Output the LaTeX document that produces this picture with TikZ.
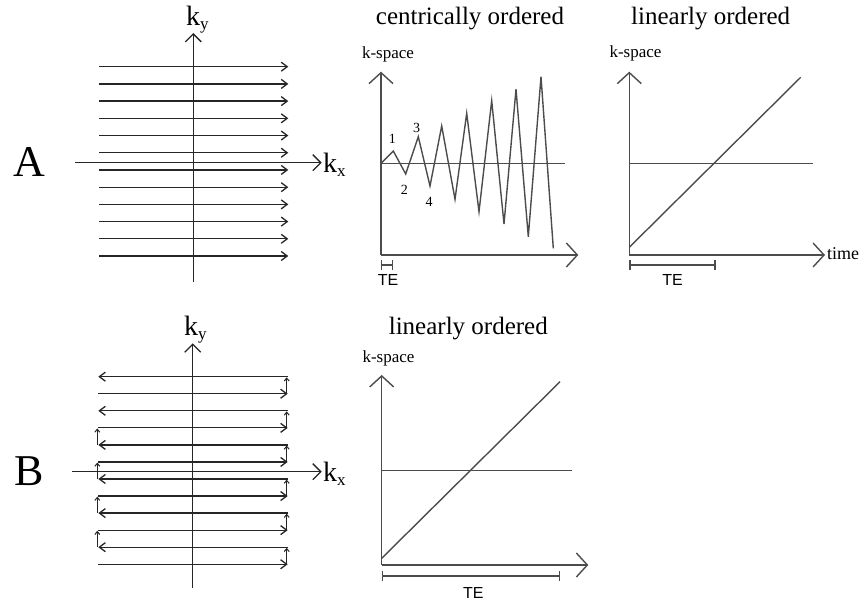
\documentclass[tikz,border=0pt]{standalone}
\usepackage{fontspec}
\setmainfont{Liberation Serif}
\newfontfamily\tesans{Liberation Sans}
\usetikzlibrary{arrows.meta}
\begin{document}
\begin{tikzpicture}[x=1pt,y=-1pt,
  kln/.style={line width=1.3pt,draw=black!85},
  pln/.style={line width=1.4pt,draw=black!70},
  kaxis/.style={kln,-{Straight Barb[length=8pt,width=16pt]}},
  rowr/.style={kln,-{Straight Barb[length=6pt,width=9pt]}},
  upar/.style={kln,line width=1pt,-{Straight Barb[length=3pt,width=5pt]}},
  paxis/.style={pln,-{Straight Barb[length=11pt,width=24pt]}},
  title/.style={font=\fontsize{25}{30}\selectfont,anchor=base,inner sep=0pt},
  kslabel/.style={font=\fontsize{17}{20}\selectfont,anchor=base,inner sep=0pt},
  telabel/.style={font=\tesans\fontsize{16}{19}\selectfont,anchor=base,inner sep=0pt},
  numlabel/.style={font=\fontsize{14}{16}\selectfont,inner sep=0pt},
  big/.style={font=\fontsize{44}{50}\selectfont,inner sep=0pt},
  klab/.style={font=\fontsize{28}{32}\selectfont,anchor=base west,inner sep=0pt},
  tebar/.style={pln,{Bar[width=10pt]}-{Bar[width=10pt]}}
]
\useasboundingbox (0,0) rectangle (865,601);
\newcommand{\ksub}[1]{k\raisebox{-4pt}{\fontsize{17}{17}\selectfont #1}}

% ---------- A : k-space ----------
\node[big] (labA) at (29,162) {A};
\foreach \i in {0,...,11}{
  \draw[rowr] (99.3,{66.7+17.21*\i}) -- (288.3,{66.7+17.21*\i});
}
\coordinate (Aky0) at (193.3,282);
\coordinate (Aky1) at (193.3,33);
\coordinate (Akx0) at (75,162.7);
\coordinate (Akx1) at (321.7,162.7);
\draw[kaxis] (Aky0) -- (Aky1);
\draw[kaxis] (Akx0) -- (Akx1);
\node[klab] (Aky) at (186,26) {\ksub{y}};
\node[klab] (Akx) at (323,173) {\ksub{x}};

% ---------- A : centrically ordered ----------
\node[title] (tc) at (470,25) {centrically ordered};
\node[kslabel] (ksc) at (388,59) {k-space};
\coordinate (co) at (381,255);
\coordinate (cy) at (381,71.7);
\coordinate (cx) at (578.3,255);
\coordinate (cm0) at (381,163.3);
\coordinate (cm1) at (565,163.3);
\draw[paxis] (co) -- (cy);
\draw[paxis] (co) -- (cx);
\draw[pln] (cm0) -- (cm1);
\draw[pln,line join=miter] (381,163.3) -- (393.3,151) -- (405.7,174) -- (418.3,136.7) -- (430,186)
  -- (441.7,126) -- (455,199.3) -- (466.7,113.3) -- (479,211.7) -- (491.7,100.7)
  -- (504,224) -- (516,89.3) -- (528.3,236.7) -- (541,76.7) -- (553.3,248.3);
\node[numlabel] (n1) at (392.3,139.3) {1};
\node[numlabel] (n2) at (404.3,190) {2};
\node[numlabel] (n3) at (416.7,127.7) {3};
\node[numlabel] (n4) at (429,201.7) {4};
\coordinate (cte0) at (381,265);
\coordinate (cte1) at (393.3,265);
\draw[tebar] (cte0) -- (cte1);
\node[telabel] (tec) at (388,286) {TE};

% ---------- A : linearly ordered ----------
\node[title] (tl) at (710.7,25) {linearly ordered};
\node[kslabel] (ksl) at (635.5,58) {k-space};
\coordinate (lo) at (629.3,255);
\coordinate (ly) at (629.3,71.7);
\coordinate (lx) at (825,255);
\coordinate (lm0) at (629.3,163.3);
\coordinate (lm1) at (813.3,163.3);
\coordinate (ld0) at (629.3,247.3);
\coordinate (ld1) at (800.7,77.3);
\draw[paxis] (lo) -- (ly);
\draw[paxis] (lo) -- (lx);
\draw[pln] (lm0) -- (lm1);
\draw[pln] (ld0) -- (ld1);
\node[font=\fontsize{18}{20}\selectfont,anchor=base west,inner sep=0pt] (time) at (827,260) {time};
\coordinate (lte0) at (629.3,265);
\coordinate (lte1) at (715.7,265);
\draw[tebar] (lte0) -- (lte1);
\node[telabel] (tel) at (672.5,286) {TE};

% ---------- B : k-space ----------
\node[big] (labB) at (29,471) {B};
\foreach \i in {0,2,...,10}{
  \draw[rowr] (288,{376.7+17.05*\i}) -- (98.3,{376.7+17.05*\i});
}
\foreach \i in {1,3,...,11}{
  \draw[rowr] (98.3,{376.7+17.05*\i}) -- (287.7,{376.7+17.05*\i});
}
\foreach \i in {0,2,...,10}{
  \draw[upar] (286.7,{376.7+17.05*(\i+1)}) -- (286.7,{376.7+17.05*\i+0.6});
}
\foreach \i in {3,5,7,9}{
  \draw[upar] (97.3,{376.7+17.05*(\i+1)}) -- (97.3,{376.7+17.05*\i+0.6});
}
\coordinate (Bky0) at (192.7,588.3);
\coordinate (Bky1) at (192.7,343.3);
\coordinate (Bkx0) at (71.7,471.7);
\coordinate (Bkx1) at (321.7,471.7);
\draw[kaxis] (Bky0) -- (Bky1);
\draw[kaxis] (Bkx0) -- (Bkx1);
\node[klab] (Bky) at (184,336) {\ksub{y}};
\node[klab] (Bkx) at (323,482) {\ksub{x}};

% ---------- B : linearly ordered ----------
\node[title] (tb) at (468.3,334.3) {linearly ordered};
\node[kslabel] (ksb) at (388.5,363) {k-space};
\coordinate (bo) at (381.7,565);
\coordinate (by) at (381.7,375);
\coordinate (bx) at (588.3,565);
\coordinate (bm0) at (381.7,470.7);
\coordinate (bm1) at (572.3,470.7);
\coordinate (bd0) at (381.7,558.3);
\coordinate (bd1) at (560,381.7);
\draw[paxis] (bo) -- (by);
\draw[paxis] (bo) -- (bx);
\draw[pln] (bm0) -- (bm1);
\draw[pln] (bd0) -- (bd1);
\coordinate (bte0) at (381.7,576);
\coordinate (bte1) at (560,576);
\draw[tebar] (bte0) -- (bte1);
\node[telabel] (teb) at (473.3,598) {TE};
\end{tikzpicture}
\end{document}
